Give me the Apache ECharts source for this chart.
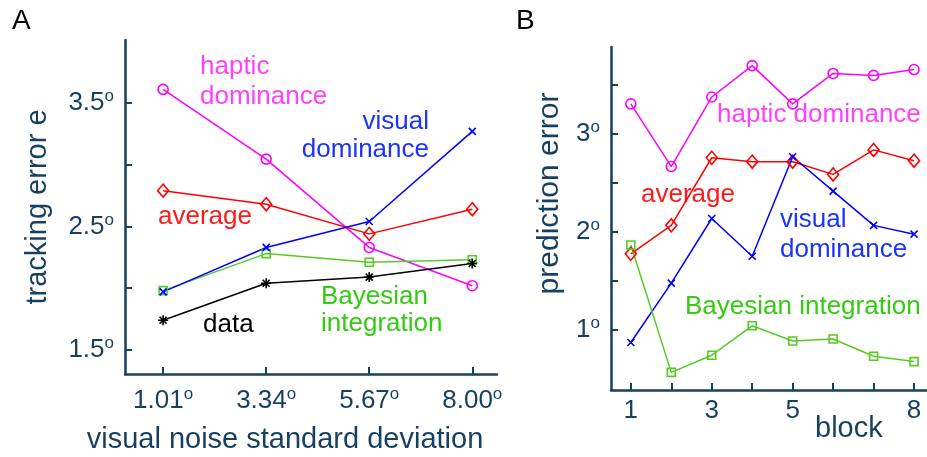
<!DOCTYPE html>
<html>
<head>
<meta charset="utf-8">
<script src="https://cdn.jsdelivr.net/npm/echarts@6/dist/echarts.min.js"></script>
<style>
html,body{margin:0;padding:0;background:#fff;}
#chart{width:927px;height:457px;}
</style>
</head>
<body>
<div id="chart"></div>
<script>
// ---- Panel A data ----
const noiseLevels = ['1.01', '3.34', '5.67', '8.00'];
const noiseIndex = [1, 2, 3, 4];
const aHaptic = [3.61, 3.045, 2.33, 2.02];
const aVisual = [1.97, 2.33, 2.54, 3.27];
const aAverage = [2.79, 2.68, 2.44, 2.64];
const aBayes = [1.98, 2.28, 2.21, 2.23];
const aData = [1.74, 2.04, 2.09, 2.20];
const aYTicks = [1.5, 2, 2.5, 3, 3.5];
const aYLabels = [1.5, 2.5, 3.5];

// ---- Panel B data ----
const blocks = [1, 2, 3, 4, 5, 6, 7, 8];
const bXLabels = [1, 3, 5, 8];
const bHaptic = [3.31, 2.67, 3.38, 3.70, 3.31, 3.62, 3.60, 3.66];
const bAverage = [1.78, 2.07, 2.76, 2.72, 2.72, 2.59, 2.84, 2.73];
const bVisual = [0.875, 1.48, 2.14, 1.755, 2.77, 2.42, 2.07, 1.98];
const bBayes = [1.87, 0.57, 0.745, 1.045, 0.89, 0.91, 0.735, 0.68];
const bYTicks = [1, 1.5, 2, 2.5, 3, 3.5];
const bYLabels = [1, 2, 3];

const NAVY = '#173f5f';
const FONT = '"Liberation Sans", Arial, Helvetica, sans-serif';
const C = {
  haptic: '#ff00ff', hapticText: '#ff40ff',
  visual: '#0000ff', visualText: '#1a33ff',
  average: '#ff0000', averageText: '#ff1a1a',
  bayes: '#55cc22', bayesText: '#33cc11',
  data: '#000000'
};

const CROSS = 'path://M0,0L10,10M10,0L0,10';
const STAR = 'path://M5,0L5,10M0,5L10,5M1.5,1.5L8.5,8.5M8.5,1.5L1.5,8.5';

function zip(xs, ys) { return xs.map((x, i) => [x, ys[i]]); }

const degRich = {
  n: { fontSize: 26, color: NAVY, fontFamily: FONT, lineHeight: 30 },
  o: { fontSize: 17, color: NAVY, fontFamily: FONT, verticalAlign: 'top', lineHeight: 30 }
};

function series(xi, yi, data, color, symbol, size, fillNone) {
  return {
    type: 'line', xAxisIndex: xi, yAxisIndex: yi, data: data,
    symbol: symbol, symbolSize: size, showSymbol: true,
    lineStyle: { color: color, width: 1.5 },
    itemStyle: { color: fillNone ? 'rgba(0,0,0,0)' : color, borderColor: color, borderWidth: 1.6 },
    emphasis: { disabled: true }, silent: true, z: 3
  };
}

function axisCommon() {
  return {
    axisLine: { show: true, onZero: false, lineStyle: { color: NAVY, width: 2.5 } },
    splitLine: { show: false }
  };
}

const option = {
  animation: false,
  backgroundColor: '#fff',
  grid: [
    { left: 125, top: 40, width: 372, height: 334, outerBoundsMode: 'none', containLabel: false },
    { left: 611, top: 47, width: 316, height: 343, outerBoundsMode: 'none', containLabel: false }
  ],
  xAxis: [
    Object.assign(axisCommon(), {
      type: 'value', gridIndex: 0, min: 0.63, max: 4.24,
      axisTick: { show: true, inside: true, length: 7, customValues: noiseIndex, lineStyle: { color: NAVY, width: 2 } },
      axisLabel: {
        customValues: noiseIndex, margin: 12,
        formatter: v => '{n|' + noiseLevels[Math.round(v) - 1] + '}{o|o}',
        rich: degRich
      },
      name: 'visual noise standard deviation', nameLocation: 'middle', nameGap: 51,
      nameTextStyle: { fontSize: 29, color: NAVY, fontFamily: FONT, padding: [0, 52, 0, 0] }
    }),
    Object.assign(axisCommon(), {
      type: 'value', gridIndex: 1, min: 0.51, max: 8.32,
      axisTick: { show: true, inside: true, length: 7, customValues: blocks, lineStyle: { color: NAVY, width: 2 } },
      axisLabel: { customValues: bXLabels, margin: 8, fontSize: 26, color: NAVY, fontFamily: FONT },
      name: 'block', nameLocation: 'end', nameGap: 0,
      nameTextStyle: { fontSize: 29, color: NAVY, fontFamily: FONT, align: 'left', verticalAlign: 'top', padding: [24, 0, 0, -112] }
    })
  ],
  yAxis: [
    Object.assign(axisCommon(), {
      type: 'value', gridIndex: 0, min: 1.305, max: 4.01,
      axisTick: { show: true, inside: true, length: 7, customValues: aYTicks, lineStyle: { color: NAVY, width: 2 } },
      axisLabel: {
        customValues: aYLabels, margin: 11,
        formatter: v => '{n|' + v.toFixed(1) + '}{o|o}',
        rich: degRich
      },
      name: 'tracking error e', nameLocation: 'middle', nameGap: 73, nameRotate: 90,
      nameTextStyle: { fontSize: 29, color: NAVY, fontFamily: FONT }
    }),
    Object.assign(axisCommon(), {
      type: 'value', gridIndex: 1, min: 0.39, max: 3.89,
      axisTick: { show: true, inside: true, length: 7, customValues: bYTicks, lineStyle: { color: NAVY, width: 2 } },
      axisLabel: {
        customValues: bYLabels, margin: 11,
        formatter: v => '{n|' + Math.round(v) + '}{o|o}',
        rich: degRich
      },
      name: 'prediction error', nameLocation: 'middle', nameGap: 46, nameRotate: 90,
      nameTextStyle: { fontSize: 30, color: NAVY, fontFamily: FONT, padding: [0, 0, 0, 50] }
    })
  ],
  series: [
    series(0, 0, zip(noiseIndex, aHaptic), C.haptic, 'circle', 10, true),
    series(0, 0, zip(noiseIndex, aAverage), C.average, 'diamond', [11, 13], true),
    series(0, 0, zip(noiseIndex, aBayes), C.bayes, 'rect', 8, true),
    series(0, 0, zip(noiseIndex, aVisual), C.visual, CROSS, 7, true),
    series(0, 0, zip(noiseIndex, aData), C.data, STAR, 10, true),
    series(1, 1, zip(blocks, bHaptic), C.haptic, 'circle', 10, true),
    series(1, 1, zip(blocks, bAverage), C.average, 'diamond', [11, 13], true),
    series(1, 1, zip(blocks, bVisual), C.visual, CROSS, 7, true),
    series(1, 1, zip(blocks, bBayes), C.bayes, 'rect', 8, true)
  ],
  graphic: [
    { type: 'text', left: 12, top: 7, style: { text: 'A', fontSize: 28, fill: '#000', fontFamily: FONT } },
    { type: 'text', left: 516, top: 7, style: { text: 'B', fontSize: 28, fill: '#000', fontFamily: FONT } },
    // Panel A annotations
    { type: 'text', x: 200, y: 82, style: { text: 'haptic\ndominance', fontSize: 26, lineHeight: 30, fill: C.hapticText, fontFamily: FONT, align: 'left', verticalAlign: 'middle' } },
    { type: 'text', x: 429, y: 136, style: { text: 'visual\ndominance', fontSize: 26, lineHeight: 28, fill: C.visualText, fontFamily: FONT, align: 'right', verticalAlign: 'middle' } },
    { type: 'text', x: 158, y: 217, style: { text: 'average', fontSize: 26, fill: C.averageText, fontFamily: FONT, align: 'left', verticalAlign: 'middle' } },
    { type: 'text', x: 203, y: 325, style: { text: 'data', fontSize: 26, fill: '#000', fontFamily: FONT, align: 'left', verticalAlign: 'middle' } },
    { type: 'text', x: 321, y: 310, style: { text: 'Bayesian\nintegration', fontSize: 26, lineHeight: 27, fill: C.bayesText, fontFamily: FONT, align: 'left', verticalAlign: 'middle' } },
    // Panel B annotations
    { type: 'text', x: 717, y: 115, style: { text: 'haptic dominance', fontSize: 26, fill: C.hapticText, fontFamily: FONT, align: 'left', verticalAlign: 'middle' } },
    { type: 'text', x: 641, y: 195, style: { text: 'average', fontSize: 26, fill: C.averageText, fontFamily: FONT, align: 'left', verticalAlign: 'middle' } },
    { type: 'text', x: 780, y: 235, style: { text: 'visual\ndominance', fontSize: 26, lineHeight: 30, fill: C.visualText, fontFamily: FONT, align: 'left', verticalAlign: 'middle' } },
    { type: 'text', x: 685, y: 307, style: { text: 'Bayesian integration', fontSize: 26, fill: C.bayesText, fontFamily: FONT, align: 'left', verticalAlign: 'middle' } }
  ]
};

const chart = echarts.init(document.getElementById('chart'), null, { renderer: 'canvas' });
chart.setOption(option);
</script>
</body>
</html>
